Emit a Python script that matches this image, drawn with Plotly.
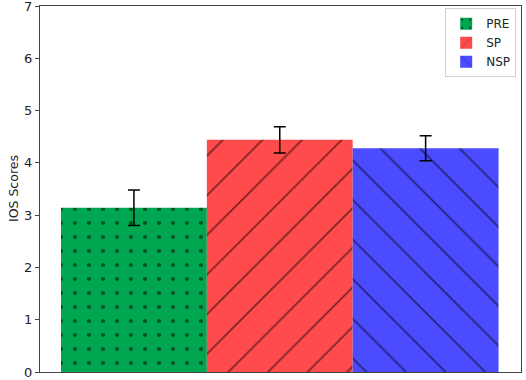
import plotly.graph_objects as go

categories = ["PRE", "SP", "NSP"]
means = [3.14, 4.44, 4.28]
errors = [0.34, 0.25, 0.24]
colors = ["#00a64f", "#ff4b4b", "#4b4bff"]
patterns = [".", "/", "\\"]
y_ticks = [0, 1, 2, 3, 4, 5, 6, 7]

fig = go.Figure()
for i, (cat, m, e, c, p) in enumerate(zip(categories, means, errors, colors, patterns)):
    if p == ".":
        pat = dict(shape=p, fgcolor="black", bgcolor=c, size=14, solidity=0.07, fillmode="overlay")
    else:
        pat = dict(shape=p, fgcolor="black", bgcolor=c, size=28, solidity=0.065, fillmode="overlay")
    fig.add_trace(go.Bar(
        x=[i], y=[m], width=1, name=cat,
        marker=dict(color=c, line=dict(width=0), pattern=pat),
        error_y=dict(type="data", array=[e], color="black", thickness=1.5, width=6),
    ))

fig.update_layout(
    width=526, height=380,
    margin=dict(l=40, r=5, t=6, b=8, autoexpand=False),
    barmode="overlay",
    plot_bgcolor="white", paper_bgcolor="white",
    font=dict(family="DejaVu Sans", size=13, color="#222"),
    showlegend=True,
    legend=dict(x=0.99, y=0.994, xanchor="right", yanchor="top",
                bordercolor="#d0d0d0", borderwidth=1, bgcolor="rgba(255,255,255,0.8)",
                font=dict(size=12), itemwidth=30),
    xaxis=dict(range=[-0.644, 2.654], showticklabels=False, ticks="",
               showline=True, linecolor="#444", linewidth=1, mirror=True,
               showgrid=False, zeroline=False, automargin=False),
    yaxis=dict(range=[0, 7.0001], tickvals=y_ticks, ticks="outside", ticklen=4,
               tickcolor="#444", showline=True, linecolor="#444", linewidth=1,
               mirror=True, showgrid=False, zeroline=False, automargin=False,
               tickfont=dict(size=13), ticklabeloverflow="allow"),
    annotations=[dict(text="IOS Scores", xref="paper", yref="paper", x=0, y=0.5,
                      xshift=-27, textangle=-90, showarrow=False,
                      font=dict(size=12.5), xanchor="center", yanchor="middle")],
)

fig.write_html("out.html", config={"displayModeBar": False},
               post_script="document.body.style.margin='0';")
